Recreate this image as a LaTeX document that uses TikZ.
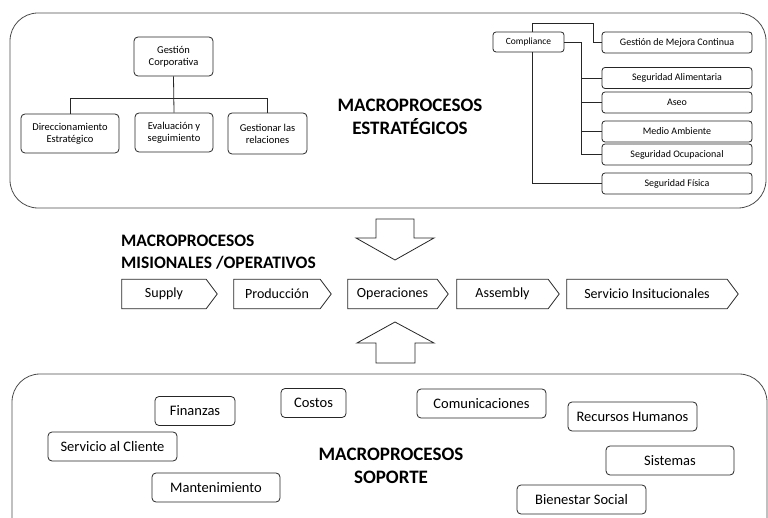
\documentclass[tikz,border=0pt]{standalone}
\usepackage{fontspec}
\setmainfont{Carlito}
\usetikzlibrary{calc}

\begin{document}
\begin{tikzpicture}[x=1pt,y=-1pt,
    line/.style={draw=black!85, line width=0.8pt},
    orgbox/.style={line, rounded corners=4pt, align=center, inner sep=1pt, font=\fontsize{10.5}{12}\selectfont},
    listbox/.style={line, rounded corners=3pt, minimum width=150, minimum height=21, inner sep=1pt, font=\fontsize{10}{11}\selectfont},
    supbox/.style={line, rounded corners=4pt, minimum height=29, inner sep=1pt, font=\fontsize{14.5}{16}\selectfont},
    chev/.style={minimum height=29, inner sep=0pt, font=\fontsize{14}{16}\selectfont},
    title/.style={font=\bfseries\fontsize{19}{22.5}\selectfont, align=center, inner sep=0pt}]
    \useasboundingbox (0,0) rectangle (768,518);
    \clip (0,0) rectangle (768,518);

    % Strategic frame
    \draw[line, draw=black!70, rounded corners=28] (10,13) rectangle (766,208);

    % Corporate tree
    \node[orgbox, minimum width=79, minimum height=39] (gc) at (173.5,56.5) {Gestión\\Corporativa};
    \node[orgbox, minimum width=98, minimum height=39] (dir) at (70,133.5) {Direccionamiento\\Estratégico};
    \node[orgbox, minimum width=78, minimum height=39] (ev) at (174,132.5) {Evaluación y\\seguimiento};
    \node[orgbox, minimum width=79, minimum height=41] (gr) at (267.5,133.5) {Gestionar las\\relaciones};
    \draw[line] (gc.south) -- (ev.north);
    \draw[line] (dir.north) -- ++(0,-15) -| (gr.north);

    \node[title] (estr) at (410,117) {MACROPROCESOS\\ESTRATÉGICOS};

    % Compliance list
    \node[orgbox, rounded corners=3pt, minimum width=71, minimum height=20, font=\fontsize{9.5}{10}\selectfont] (comp) at (528.5,42) {Compliance};
    \node[listbox] (mej) at (677,42.5) {Gestión de Mejora Continua};
    \node[listbox] (ali) at (677,78) {Seguridad Alimentaria};
    \node[listbox] (aseo) at (677,102.5) {Aseo};
    \node[listbox] (amb) at (677,131.5) {Medio Ambiente};
    \node[listbox] (ocu) at (677,154.5) {Seguridad Ocupacional};
    \node[listbox] (fis) at (677,183.5) {Seguridad Física};

    \draw[line] ($(comp.north)+(3.5,0)$) |- ++(61,-8) |- (mej.west);
    \coordinate (sp) at ($(comp.east)+(17,0)$);
    \draw[line] (comp.east) -- (sp) |- (ocu.west);
    \foreach \b in {ali,aseo,amb}
        \draw[line] (sp |- \b.west) -- (\b.west);
    \draw[line] ($(comp.south)+(3.5,0)$) |- (fis.west);

    % Operative chain
    \draw[line] (376,219) -- (414,219) -- (414,238) -- (434,238) -- (395,260) -- (356,238) -- (376,238) -- cycle;
    \node[font=\bfseries\fontsize{17.5}{21.5}\selectfont, align=left, anchor=west, inner sep=0pt] (mis) at (121,252) {MACROPROCESOS\\MISIONALES /OPERATIVOS};

    \node[chev, minimum width=84] (sup) at (164,294) {Supply};
    \node[chev, minimum width=86] (pro) at (277,294) {Producción};
    \node[chev, minimum width=89] (ope) at (392.5,294) {Operaciones};
    \node[chev, minimum width=91] (asm) at (502.5,294) {Assembly};
    \node[chev, minimum width=160] (ser) at (647,294) {Servicio Insitucionales};
    \foreach \c in {sup,pro,ope,asm,ser}
        \draw[line] (\c.north west) -- (\c.north east) -- ([xshift=11]\c.east) -- (\c.south east) -- (\c.south west) -- cycle;

    \draw[line] (376,363) -- (415,363) -- (415,343) -- (434,343) -- (395,322) -- (357,343) -- (376,343) -- cycle;

    % Support frame
    \draw[line, draw=black!70, rounded corners=28] (12,374) rectangle (767,548);

    \node[supbox, minimum width=80] (fin) at (195,411) {Finanzas};
    \node[supbox, minimum width=65] (cos) at (313.5,403) {Costos};
    \node[supbox, minimum width=129] (cli) at (112.5,446.5) {Servicio al Cliente};
    \node[supbox, minimum width=128] (man) at (216,487.5) {Mantenimiento};
    \node[supbox, minimum width=129] (com) at (481.5,403.5) {Comunicaciones};
    \node[supbox, minimum width=129] (rh) at (632.5,416.5) {Recursos Humanos};
    \node[supbox, minimum width=128] (sis) at (670,460.5) {Sistemas};
    \node[supbox, minimum width=129] (bie) at (581.5,499.5) {Bienestar Social};

    \node[title] (sop) at (391,466) {MACROPROCESOS\\SOPORTE};
\end{tikzpicture}
\end{document}
